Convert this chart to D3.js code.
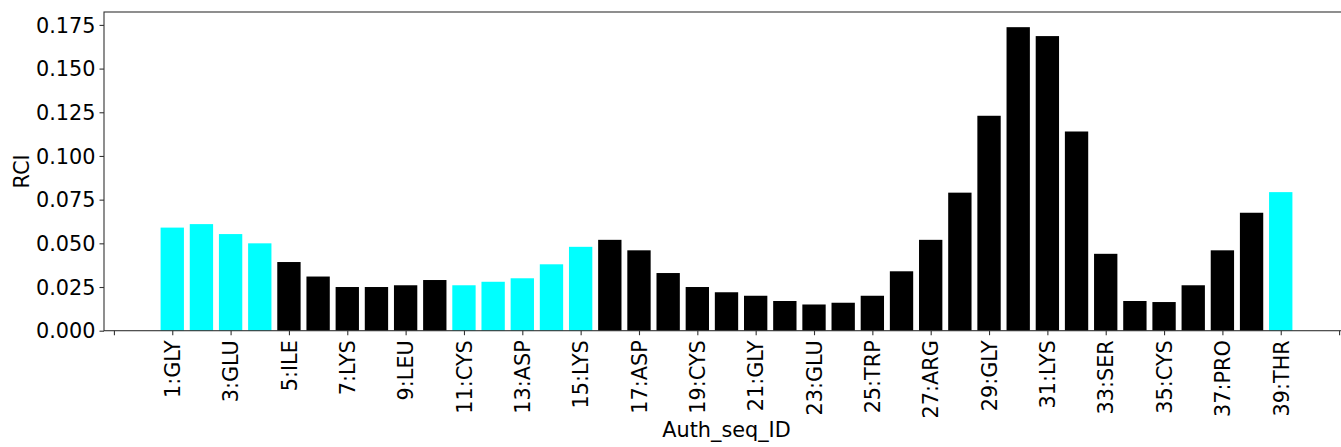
<!DOCTYPE html>
<html>
<head>
<meta charset="utf-8">
<script src="https://cdn.jsdelivr.net/npm/d3@7"></script>
<style>
  body { margin: 0; background: #fff; }
  svg { display: block; }
  text { font-family: "DejaVu Sans", sans-serif; }
</style>
</head>
<body>
<svg id="chart" width="1341" height="447"></svg>
<script>
// Residue numbers and RCI values
const residues = d3.range(1, 40);
const rciValues = [
    0.059, 0.061, 0.0553, 0.050, 0.0393, 0.031, 0.025, 0.025, 0.026, 0.029,
    0.026, 0.028, 0.030, 0.038, 0.048, 0.052, 0.046, 0.033, 0.025, 0.022,
    0.020, 0.017, 0.015, 0.016, 0.020, 0.034, 0.052, 0.079, 0.123, 0.1737,
    0.1686, 0.114, 0.044, 0.017, 0.0164, 0.026, 0.046, 0.0675, 0.0793
];
// residues drawn in cyan (the rest are black)
const cyanResidues = [1, 2, 3, 4, 11, 12, 13, 14, 15, 39];

// x tick positions and their labels (outer ticks have empty labels)
const xTicks = d3.range(-1, 42, 2);
const xTickLabels = ["", "1:GLY", "3:GLU", "5:ILE", "7:LYS", "9:LEU", "11:CYS", "13:ASP",
    "15:LYS", "17:ASP", "19:CYS", "21:GLY", "23:GLU", "25:TRP", "27:ARG", "29:GLY",
    "31:LYS", "33:SER", "35:CYS", "37:PRO", "39:THR", ""];
const yTicks = [0, 0.025, 0.05, 0.075, 0.1, 0.125, 0.15, 0.175];

const svg = d3.select("#chart");
const fontSize = 20.8;

// plot area (right edge runs past the picture, as in the reference)
const plotLeft = 104;
const plotRight = 1349;
const plotTop = 12;
const plotBottom = 330.7;

const barWidth = 0.8;
const xMin = 1 - barWidth / 2, xMax = 39 + barWidth / 2;
const xPad = (xMax - xMin) * 0.05;
const x = d3.scaleLinear().domain([xMin - xPad, xMax + xPad]).range([plotLeft, plotRight]);
const y = d3.scaleLinear().domain([0, d3.max(rciValues) * 1.05]).range([plotBottom, plotTop]);

// Bars
svg.append("g")
    .selectAll("rect")
    .data(residues)
    .enter()
    .append("rect")
    .attr("x", (d) => x(d - barWidth / 2))
    .attr("width", (d) => x(d + barWidth / 2) - x(d - barWidth / 2))
    .attr("y", (d, i) => y(rciValues[i]))
    .attr("height", (d, i) => plotBottom - y(rciValues[i]))
    .attr("fill", (d) => cyanResidues.includes(d) ? "#00ffff" : "#000000");

// Frame
svg.append("rect")
    .attr("x", plotLeft)
    .attr("y", plotTop)
    .attr("width", plotRight - plotLeft)
    .attr("height", plotBottom - plotTop)
    .attr("fill", "none")
    .attr("stroke", "#333")
    .attr("stroke-width", 1.1);

// y axis
const yAxis = d3.axisLeft(y)
    .tickValues(yTicks)
    .tickFormat(d3.format(".3f"))
    .tickSize(4.5)
    .tickPadding(4);

svg.append("g")
    .attr("transform", `translate(${plotLeft},0)`)
    .call(yAxis)
    .call((g) => g.select(".domain").remove())
    .call((g) => g.selectAll("line").attr("stroke", "#333").attr("stroke-width", 1.1))
    .call((g) => g.selectAll("text")
        .attr("font-size", fontSize)
        .attr("font-family", "DejaVu Sans, sans-serif")
        .attr("fill", "#000")
        .attr("dy", "0.35em"));

// x axis
const xAxis = d3.axisBottom(x)
    .tickValues(xTicks)
    .tickFormat((d, i) => xTickLabels[i])
    .tickSize(4.5)
    .tickPadding(5);

svg.append("g")
    .attr("transform", `translate(0,${plotBottom})`)
    .call(xAxis)
    .call((g) => g.select(".domain").remove())
    .call((g) => g.selectAll("line").attr("stroke", "#333").attr("stroke-width", 1.1))
    .call((g) => g.selectAll("text")
        .attr("font-size", fontSize)
        .attr("font-family", "DejaVu Sans, sans-serif")
        .attr("fill", "#000")
        .attr("transform", "rotate(-90)")
        .attr("text-anchor", "end")
        .attr("x", -9.5)
        .attr("y", 0)
        .attr("dy", "0.35em"));

// Axis titles
svg.append("text")
    .attr("x", (plotLeft + plotRight) / 2)
    .attr("y", 437)
    .attr("text-anchor", "middle")
    .attr("font-size", fontSize)
    .text("Auth_seq_ID");

svg.append("text")
    .attr("transform", `translate(29,${(plotTop + plotBottom) / 2}) rotate(-90)`)
    .attr("text-anchor", "middle")
    .attr("font-size", fontSize)
    .text("RCI");
</script>
</body>
</html>
